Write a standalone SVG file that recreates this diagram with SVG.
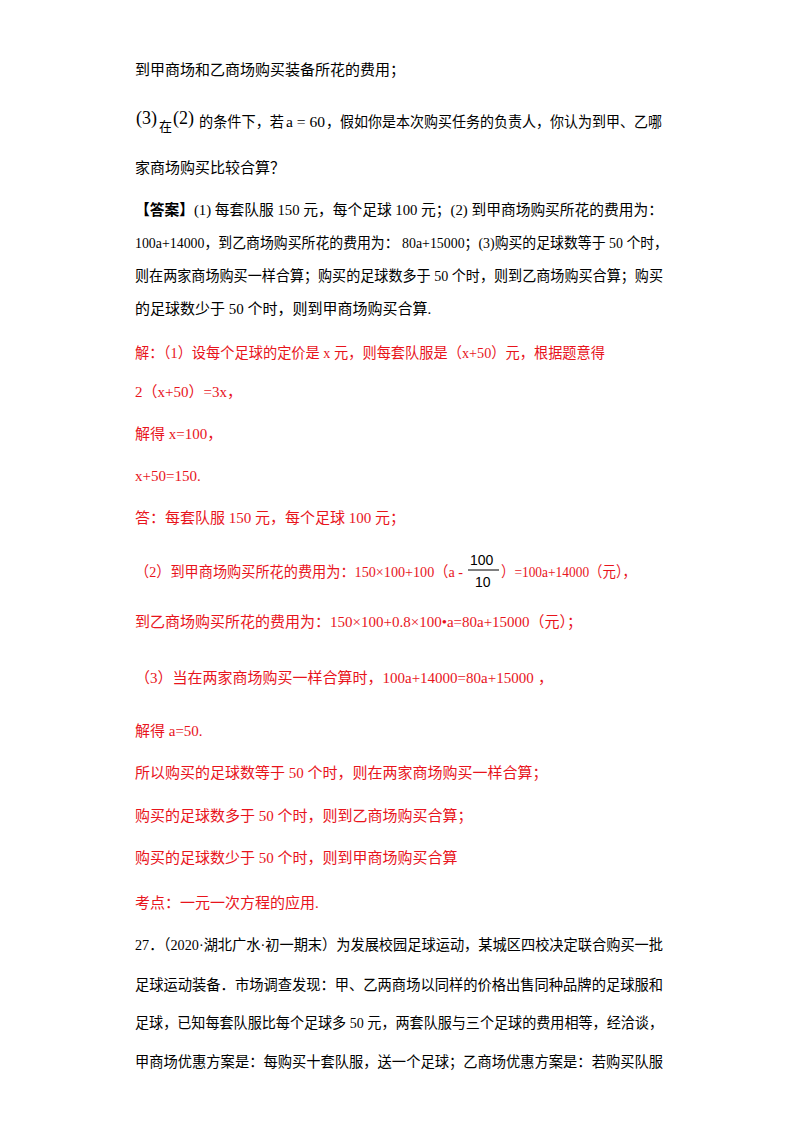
<svg xmlns="http://www.w3.org/2000/svg" width="800" height="1132" viewBox="0 0 800 1132">
<style>
text{font-family:"Liberation Serif","Noto Sans CJK SC",serif;font-size:15px;fill:#000}
.r{fill:#e8141c}
.m{font-family:"Liberation Sans","Noto Sans CJK SC",sans-serif}
</style>
<rect width="800" height="1132" fill="#fff"/>
<text x="135" y="75">到甲商场和乙商场购买装备所花的费用；</text>
<text x="136" y="124" style="font-size:18px">(3)</text>
<text x="159" y="131" style="font-size:13px">在</text>
<text x="173" y="124" style="font-size:18px">(2)</text>
<text x="199" y="127" textLength="85" lengthAdjust="spacingAndGlyphs">的条件下，若</text>
<text x="286" y="127" textLength="39" lengthAdjust="spacingAndGlyphs">a = 60</text>
<text x="326" y="127" textLength="336" lengthAdjust="spacingAndGlyphs">，假如你是本次购买任务的负责人，你认为到甲、乙哪</text>
<text x="135" y="173">家商场购买比较合算？</text>
<text x="135" y="215" textLength="528" lengthAdjust="spacingAndGlyphs"><tspan font-weight="bold">【答案】</tspan>(1) 每套队服 150 元，每个足球 100 元；(2) 到甲商场购买所花的费用为：</text>
<text x="135" y="248" textLength="533" lengthAdjust="spacingAndGlyphs">100a+14000，到乙商场购买所花的费用为： 80a+15000；(3)购买的足球数等于 50 个时，</text>
<text x="135" y="281" textLength="528" lengthAdjust="spacingAndGlyphs">则在两家商场购买一样合算；购买的足球数多于 50 个时，则到乙商场购买合算；购买</text>
<text x="135" y="314">的足球数少于 50 个时，则到甲商场购买合算.</text>
<g class="r">
<text class="r" x="135" y="358" textLength="470" lengthAdjust="spacingAndGlyphs">解：（1）设每个足球的定价是 x 元，则每套队服是（x+50）元，根据题意得</text>
<text class="r" x="135" y="397">2（x+50）=3x，</text>
<text class="r" x="135" y="439">解得 x=100，</text>
<text class="r" x="135" y="481">x+50=150.</text>
<text class="r" x="135" y="523">答：每套队服 150 元，每个足球 100 元；</text>
<text class="r" x="135" y="577" textLength="328" lengthAdjust="spacingAndGlyphs">（2）到甲商场购买所花的费用为：150×100+100（a -</text>
<text class="m" x="470" y="565" style="font-size:14px">100</text>
<line x1="468" y1="570" x2="499" y2="570" stroke="#000" stroke-width="1"/>
<text class="m" x="475" y="587" style="font-size:14px">10</text>
<text class="r" x="501" y="577" textLength="135" lengthAdjust="spacingAndGlyphs">）=100a+14000（元），</text>
<text class="r" x="135" y="627">到乙商场购买所花的费用为：150×100+0.8×100•a=80a+15000（元）；</text>
<text class="r" x="135" y="683">（3）当在两家商场购买一样合算时，100a+14000=80a+15000</text>
<text class="r" x="538" y="683">，</text>
<text class="r" x="135" y="736">解得 a=50.</text>
<text class="r" x="135" y="778">所以购买的足球数等于 50 个时，则在两家商场购买一样合算；</text>
<text class="r" x="135" y="821">购买的足球数多于 50 个时，则到乙商场购买合算；</text>
<text class="r" x="135" y="863">购买的足球数少于 50 个时，则到甲商场购买合算</text>
<text class="r" x="135" y="908">考点：一元一次方程的应用.</text>
</g>
<text x="135" y="950" textLength="528" lengthAdjust="spacingAndGlyphs">27．（2020·湖北广水·初一期末）为发展校园足球运动，某城区四校决定联合购买一批</text>
<text x="135" y="990" textLength="528" lengthAdjust="spacingAndGlyphs">足球运动装备．市场调查发现：甲、乙两商场以同样的价格出售同种品牌的足球服和</text>
<text x="135" y="1028" textLength="528" lengthAdjust="spacingAndGlyphs">足球，已知每套队服比每个足球多 50 元，两套队服与三个足球的费用相等，经洽谈，</text>
<text x="135" y="1067" textLength="528" lengthAdjust="spacingAndGlyphs">甲商场优惠方案是：每购买十套队服，送一个足球；乙商场优惠方案是：若购买队服</text>
</svg>
